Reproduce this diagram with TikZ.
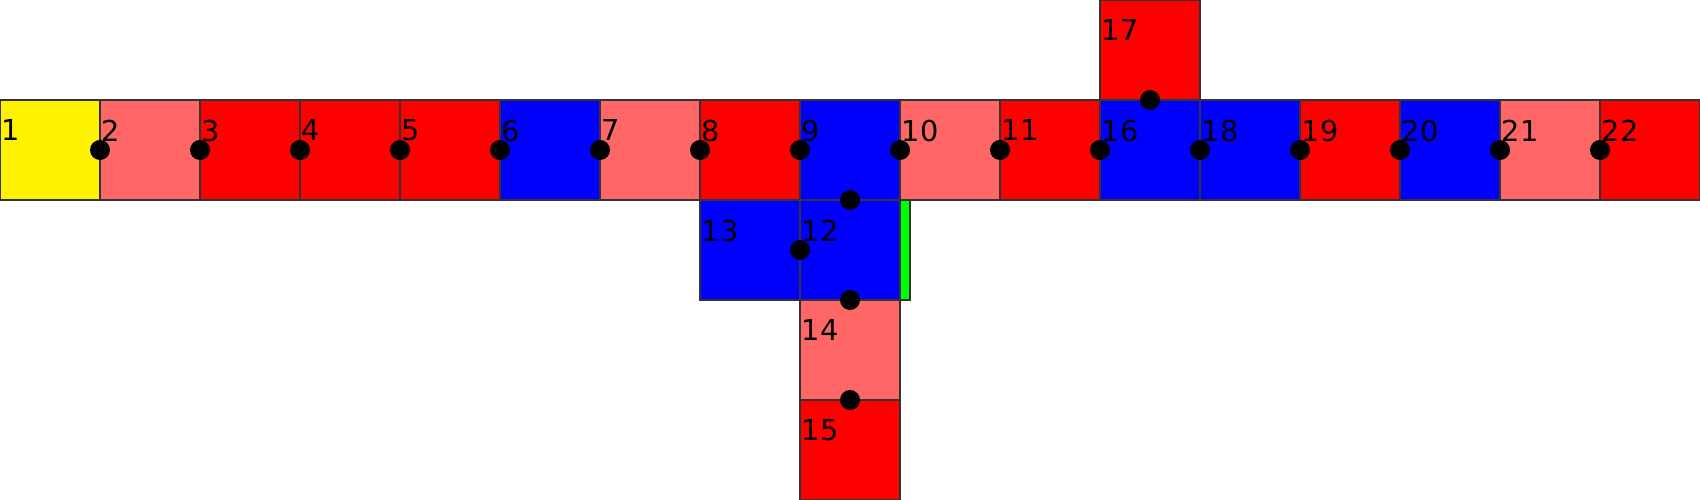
\documentclass[tikz,border=0pt]{standalone}
\usepackage{fontspec}
\setmainfont{DejaVu Sans}
\definecolor{lightred}{RGB}{255,102,102}
\definecolor{brightgreen}{RGB}{0,255,0}

\begin{document}
\begin{tikzpicture}[x=1cm,y=1cm]
  \tikzset{cell/.style={draw=black!80,line width=0.4pt},
    num/.style={anchor=north west,inner sep=0pt,font=\fontsize{8.2}{10}\selectfont}}
  \useasboundingbox (0,0) rectangle (17,5);
  \foreach \x/\y/\n/\c in {0/3/1/yellow,1/3/2/lightred,2/3/3/red,3/3/4/red,4/3/5/red,
      5/3/6/blue,6/3/7/lightred,7/3/8/red,8/3/9/blue,9/3/10/lightred,10/3/11/red,
      11/3/16/blue,12/3/18/blue,13/3/19/red,14/3/20/blue,15/3/21/lightred,16/3/22/red,
      11/4/17/red,7/2/13/blue,8/2/12/blue,8/1/14/lightred,8/0/15/red}
  {
    \filldraw[cell,fill=\c] (\x,\y) rectangle +(1,1);
    \node[num] (sq\n) at (\x+0.01,\y+0.81) {\n};
  }
  \filldraw[cell,fill=brightgreen] (9,2) rectangle (9.1,3);
  \foreach \x in {1,...,16} \fill (\x,3.5) circle (0.1);
  \foreach \x/\y in {11.5/4,8.5/3,8/2.5,8.5/2,8.5/1}
    \fill (\x,\y) circle (0.1);
\end{tikzpicture}
\end{document}
